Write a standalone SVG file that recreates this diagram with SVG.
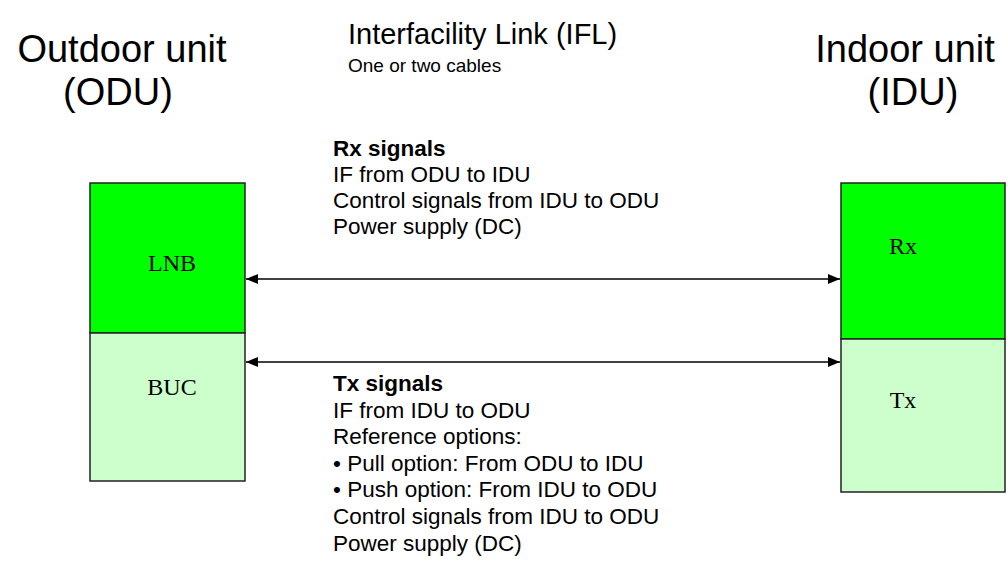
<svg xmlns="http://www.w3.org/2000/svg" width="1007" height="565" viewBox="0 0 1007 565">
<defs>
<marker id="ah" viewBox="0 0 12 10" refX="12" refY="5" markerWidth="12" markerHeight="10" markerUnits="userSpaceOnUse" orient="auto-start-reverse">
<path d="M0,0 L12,5 L0,10 Z" fill="#000"/>
</marker>
</defs>
<style>
.box{stroke:#222;stroke-width:1.5}
.hi{fill:#00ff00}
.lo{fill:#ccffcc}
.bt{font-family:"Liberation Serif",serif;font-size:24px;fill:#000}
.big{font-family:"Liberation Sans",Arial,sans-serif;font-size:38px;fill:#000}
.t{font-family:"Liberation Sans",Arial,sans-serif;font-size:22.5px;fill:#000}
.b{font-weight:bold}
.ln{stroke:#000;stroke-width:1.5;fill:none}
</style>
<rect width="1007" height="565" fill="#fff"/>
<g id="title-odu">
<text class="big" x="122" y="62" text-anchor="middle">Outdoor unit</text>
<text class="big" x="118" y="105" text-anchor="middle">(ODU)</text>
</g>
<g id="title-ifl">
<text class="big" x="348" y="44" style="font-size:29px">Interfacility Link (IFL)</text>
<text class="t" x="348" y="72" style="font-size:19px">One or two cables</text>
</g>
<g id="title-idu">
<text class="big" x="905" y="62" text-anchor="middle">Indoor unit</text>
<text class="big" x="913" y="105" text-anchor="middle">(IDU)</text>
</g>
<g id="lnb">
<rect class="box hi" x="90" y="183" width="155" height="150"/>
<text class="bt" x="172" y="271" text-anchor="middle">LNB</text>
</g>
<g id="buc">
<rect class="box lo" x="90" y="333" width="155" height="148"/>
<text class="bt" x="172" y="395" text-anchor="middle">BUC</text>
</g>
<g id="rx">
<rect class="box hi" x="841" y="183" width="164" height="156"/>
<text class="bt" x="903" y="254" text-anchor="middle">Rx</text>
</g>
<g id="tx">
<rect class="box lo" x="841" y="339" width="164" height="153"/>
<text class="bt" x="903" y="408" text-anchor="middle">Tx</text>
</g>
<g id="connectors">
<line class="ln" x1="246" y1="279" x2="840" y2="279" marker-start="url(#ah)" marker-end="url(#ah)"/>
<line class="ln" x1="246" y1="362" x2="840" y2="362" marker-start="url(#ah)" marker-end="url(#ah)"/>
</g>
<g id="rx-signals">
<text class="t b" x="333" y="156">Rx signals</text>
<text class="t" x="333" y="182">IF from ODU to IDU</text>
<text class="t" x="333" y="208">Control signals from IDU to ODU</text>
<text class="t" x="333" y="234">Power supply (DC)</text>
</g>
<g id="tx-signals">
<text class="t b" x="333" y="391">Tx signals</text>
<text class="t" x="333" y="418">IF from IDU to ODU</text>
<text class="t" x="333" y="444">Reference options:</text>
<text class="t" x="333" y="471">• Pull option: From ODU to IDU</text>
<text class="t" x="333" y="497">• Push option: From IDU to ODU</text>
<text class="t" x="333" y="524">Control signals from IDU to ODU</text>
<text class="t" x="333" y="551">Power supply (DC)</text>
</g>
</svg>
